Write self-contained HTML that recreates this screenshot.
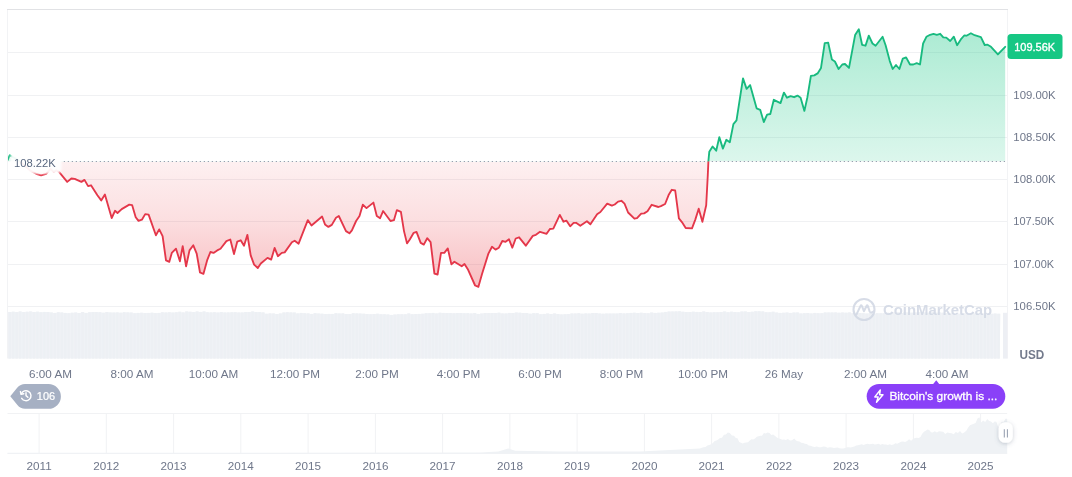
<!DOCTYPE html>
<html lang="en"><head><meta charset="utf-8"><title>Bitcoin price chart</title>
<style>html,body{margin:0;padding:0;background:#fff;}body{width:1072px;height:477px;overflow:hidden;position:relative;font-family:"Liberation Sans",sans-serif;}svg text{opacity:.999}</style></head>
<body>
<svg width="1072" height="477" viewBox="0 0 1072 477" style="display:block;position:absolute;left:0;top:0">
<defs>
<linearGradient id="gg" gradientUnits="userSpaceOnUse" x1="0" y1="28" x2="0" y2="161.5"><stop offset="0" stop-color="#16c784" stop-opacity="0.36"/><stop offset="1" stop-color="#16c784" stop-opacity="0.15"/></linearGradient>
<linearGradient id="rg" gradientUnits="userSpaceOnUse" x1="0" y1="161.5" x2="0" y2="288"><stop offset="0" stop-color="#ea3943" stop-opacity="0.075"/><stop offset="0.45" stop-color="#ea3943" stop-opacity="0.16"/><stop offset="1" stop-color="#ea3943" stop-opacity="0.33"/></linearGradient>
<clipPath id="up"><rect x="8" y="0" width="1000" height="161.5"/></clipPath>
<clipPath id="dn"><rect x="8" y="161.5" width="1000" height="200"/></clipPath>
<filter id="sh" x="-50%" y="-50%" width="200%" height="200%"><feDropShadow dx="0" dy="1" stdDeviation="2.2" flood-color="#58667e" flood-opacity="0.32"/></filter>
<filter id="bl" x="-10%" y="-20%" width="120%" height="140%"><feGaussianBlur stdDeviation="0.8"/></filter>
</defs>
<rect width="1072" height="477" fill="#fff"/>
<line x1="7.5" x2="1007.5" y1="52.5" y2="52.5" stroke="#f0f1f3" stroke-width="1"/>
<line x1="7.5" x2="1007.5" y1="95.5" y2="95.5" stroke="#f0f1f3" stroke-width="1"/>
<line x1="7.5" x2="1007.5" y1="137.5" y2="137.5" stroke="#f0f1f3" stroke-width="1"/>
<line x1="7.5" x2="1007.5" y1="179.5" y2="179.5" stroke="#f0f1f3" stroke-width="1"/>
<line x1="7.5" x2="1007.5" y1="221.5" y2="221.5" stroke="#f0f1f3" stroke-width="1"/>
<line x1="7.5" x2="1007.5" y1="264.5" y2="264.5" stroke="#f0f1f3" stroke-width="1"/>
<line x1="7.5" x2="1007.5" y1="306.5" y2="306.5" stroke="#f0f1f3" stroke-width="1"/>
<path d="M7.5,358.5 V9.5 M1007.5,9.5 V358.5" fill="none" stroke="#f2f3f5" stroke-width="1"/>
<line x1="7.0" x2="1008.0" y1="9.5" y2="9.5" stroke="#e1e2e5" stroke-width="1"/>
<g>
<path d="M8,358.6 L8.00,312.0 L11.47,312.0 L11.47,311.7 L14.94,311.7 L14.94,312.1 L18.41,312.1 L18.41,311.5 L21.88,311.5 L21.88,312.0 L25.35,312.0 L25.35,311.8 L28.82,311.8 L28.82,311.5 L32.29,311.5 L32.29,312.1 L35.76,312.1 L35.76,311.7 L39.23,311.7 L39.23,312.2 L42.70,312.2 L42.70,311.9 L46.17,311.9 L46.17,312.0 L49.64,312.0 L49.64,312.5 L53.11,312.5 L53.11,312.9 L56.58,312.9 L56.58,312.3 L60.05,312.3 L60.05,312.5 L63.52,312.5 L63.52,312.9 L66.99,312.9 L66.99,313.2 L70.46,313.2 L70.46,312.8 L73.93,312.8 L73.93,312.6 L77.40,312.6 L77.40,313.1 L80.87,313.1 L80.87,312.1 L84.34,312.1 L84.34,312.9 L87.81,312.9 L87.81,312.2 L91.28,312.2 L91.28,312.0 L94.75,312.0 L94.75,312.0 L98.22,312.0 L98.22,312.2 L101.69,312.2 L101.69,312.7 L105.16,312.7 L105.16,312.1 L108.63,312.1 L108.63,312.5 L112.10,312.5 L112.10,312.6 L115.57,312.6 L115.57,312.4 L119.04,312.4 L119.04,312.7 L122.51,312.7 L122.51,312.3 L125.98,312.3 L125.98,312.4 L129.45,312.4 L129.45,312.6 L132.92,312.6 L132.92,313.2 L136.39,313.2 L136.39,312.9 L139.86,312.9 L139.86,312.8 L143.33,312.8 L143.33,313.1 L146.80,313.1 L146.80,312.9 L150.27,312.9 L150.27,312.7 L153.74,312.7 L153.74,313.1 L157.21,313.1 L157.21,312.9 L160.68,312.9 L160.68,312.3 L164.15,312.3 L164.15,312.5 L167.62,312.5 L167.62,312.3 L171.09,312.3 L171.09,312.6 L174.56,312.6 L174.56,312.3 L178.03,312.3 L178.03,311.8 L181.50,311.8 L181.50,312.4 L184.97,312.4 L184.97,311.5 L188.44,311.5 L188.44,311.8 L191.91,311.8 L191.91,312.1 L195.38,312.1 L195.38,311.5 L198.85,311.5 L198.85,311.9 L202.32,311.9 L202.32,311.5 L205.79,311.5 L205.79,312.2 L209.26,312.2 L209.26,312.4 L212.73,312.4 L212.73,312.2 L216.20,312.2 L216.20,312.6 L219.67,312.6 L219.67,312.1 L223.14,312.1 L223.14,312.5 L226.61,312.5 L226.61,312.4 L230.08,312.4 L230.08,312.3 L233.55,312.3 L233.55,312.2 L237.02,312.2 L237.02,312.5 L240.49,312.5 L240.49,312.5 L243.96,312.5 L243.96,312.0 L247.43,312.0 L247.43,312.1 L250.90,312.1 L250.90,311.5 L254.37,311.5 L254.37,312.1 L257.84,312.1 L257.84,312.0 L261.31,312.0 L261.31,312.4 L264.78,312.4 L264.78,313.8 L268.25,313.8 L268.25,313.4 L271.72,313.4 L271.72,313.5 L275.19,313.5 L275.19,314.0 L278.66,314.0 L278.66,313.5 L282.13,313.5 L282.13,312.5 L285.60,312.5 L285.60,312.3 L289.07,312.3 L289.07,312.4 L292.54,312.4 L292.54,312.6 L296.01,312.6 L296.01,313.4 L299.48,313.4 L299.48,312.9 L302.95,312.9 L302.95,313.2 L306.42,313.2 L306.42,313.4 L309.89,313.4 L309.89,313.9 L313.36,313.9 L313.36,313.2 L316.83,313.2 L316.83,313.6 L320.30,313.6 L320.30,313.7 L323.77,313.7 L323.77,314.0 L327.24,314.0 L327.24,313.9 L330.71,313.9 L330.71,313.9 L334.18,313.9 L334.18,313.3 L337.65,313.3 L337.65,313.5 L341.12,313.5 L341.12,313.4 L344.59,313.4 L344.59,314.0 L348.06,314.0 L348.06,314.1 L351.53,314.1 L351.53,313.3 L355.00,313.3 L355.00,313.4 L358.47,313.4 L358.47,313.6 L361.94,313.6 L361.94,313.7 L365.41,313.7 L365.41,314.0 L368.88,314.0 L368.88,314.2 L372.35,314.2 L372.35,314.0 L375.82,314.0 L375.82,313.8 L379.29,313.8 L379.29,314.3 L382.76,314.3 L382.76,314.3 L386.23,314.3 L386.23,314.5 L389.70,314.5 L389.70,314.9 L393.17,314.9 L393.17,314.6 L396.64,314.6 L396.64,314.3 L400.11,314.3 L400.11,314.3 L403.58,314.3 L403.58,314.3 L407.05,314.3 L407.05,313.5 L410.52,313.5 L410.52,314.2 L413.99,314.2 L413.99,314.0 L417.46,314.0 L417.46,313.9 L420.93,313.9 L420.93,313.8 L424.40,313.8 L424.40,313.3 L427.87,313.3 L427.87,313.2 L431.34,313.2 L431.34,312.9 L434.81,312.9 L434.81,313.4 L438.28,313.4 L438.28,312.8 L441.75,312.8 L441.75,312.9 L445.22,312.9 L445.22,313.1 L448.69,313.1 L448.69,313.1 L452.16,313.1 L452.16,313.3 L455.63,313.3 L455.63,313.1 L459.10,313.1 L459.10,313.1 L462.57,313.1 L462.57,313.3 L466.04,313.3 L466.04,313.2 L469.51,313.2 L469.51,313.5 L472.98,313.5 L472.98,313.1 L476.45,313.1 L476.45,313.9 L479.92,313.9 L479.92,313.6 L483.39,313.6 L483.39,313.1 L486.86,313.1 L486.86,313.1 L490.33,313.1 L490.33,313.1 L493.80,313.1 L493.80,313.0 L497.27,313.0 L497.27,312.7 L500.74,312.7 L500.74,313.4 L504.21,313.4 L504.21,313.5 L507.68,313.5 L507.68,312.9 L511.15,312.9 L511.15,313.0 L514.62,313.0 L514.62,312.6 L518.09,312.6 L518.09,312.7 L521.56,312.7 L521.56,313.0 L525.03,313.0 L525.03,313.1 L528.50,313.1 L528.50,313.7 L531.97,313.7 L531.97,313.2 L535.44,313.2 L535.44,313.2 L538.91,313.2 L538.91,314.2 L542.38,314.2 L542.38,313.9 L545.85,313.9 L545.85,313.6 L549.32,313.6 L549.32,314.0 L552.79,314.0 L552.79,313.5 L556.26,313.5 L556.26,314.0 L559.73,314.0 L559.73,314.4 L563.20,314.4 L563.20,314.3 L566.67,314.3 L566.67,314.0 L570.14,314.0 L570.14,313.5 L573.61,313.5 L573.61,313.5 L577.08,313.5 L577.08,313.2 L580.55,313.2 L580.55,313.7 L584.02,313.7 L584.02,313.4 L587.49,313.4 L587.49,313.6 L590.96,313.6 L590.96,313.1 L594.43,313.1 L594.43,313.0 L597.90,313.0 L597.90,313.5 L601.37,313.5 L601.37,313.7 L604.84,313.7 L604.84,313.6 L608.31,313.6 L608.31,313.6 L611.78,313.6 L611.78,313.6 L615.25,313.6 L615.25,313.6 L618.72,313.6 L618.72,313.1 L622.19,313.1 L622.19,313.4 L625.66,313.4 L625.66,313.2 L629.13,313.2 L629.13,312.9 L632.60,312.9 L632.60,312.8 L636.07,312.8 L636.07,313.0 L639.54,313.0 L639.54,312.8 L643.01,312.8 L643.01,313.1 L646.48,313.1 L646.48,313.3 L649.95,313.3 L649.95,312.6 L653.42,312.6 L653.42,312.9 L656.89,312.9 L656.89,312.8 L660.36,312.8 L660.36,312.6 L663.83,312.6 L663.83,311.9 L667.30,311.9 L667.30,311.6 L670.77,311.6 L670.77,311.5 L674.24,311.5 L674.24,311.4 L677.71,311.4 L677.71,311.3 L681.18,311.3 L681.18,311.8 L684.65,311.8 L684.65,312.0 L688.12,312.0 L688.12,312.0 L691.59,312.0 L691.59,311.7 L695.06,311.7 L695.06,311.9 L698.53,311.9 L698.53,312.1 L702.00,312.1 L702.00,311.5 L705.47,311.5 L705.47,312.1 L708.94,312.1 L708.94,312.4 L712.41,312.4 L712.41,312.3 L715.88,312.3 L715.88,312.3 L719.35,312.3 L719.35,312.0 L722.82,312.0 L722.82,311.6 L726.29,311.6 L726.29,312.2 L729.76,312.2 L729.76,311.7 L733.23,311.7 L733.23,312.1 L736.70,312.1 L736.70,312.2 L740.17,312.2 L740.17,311.6 L743.64,311.6 L743.64,311.5 L747.11,311.5 L747.11,312.1 L750.58,312.1 L750.58,311.8 L754.05,311.8 L754.05,311.3 L757.52,311.3 L757.52,311.3 L760.99,311.3 L760.99,311.4 L764.46,311.4 L764.46,312.3 L767.93,312.3 L767.93,312.3 L771.40,312.3 L771.40,311.8 L774.87,311.8 L774.87,312.6 L778.34,312.6 L778.34,312.9 L781.81,312.9 L781.81,312.8 L785.28,312.8 L785.28,312.6 L788.75,312.6 L788.75,312.9 L792.22,312.9 L792.22,312.6 L795.69,312.6 L795.69,312.5 L799.16,312.5 L799.16,313.5 L802.63,313.5 L802.63,313.2 L806.10,313.2 L806.10,313.1 L809.57,313.1 L809.57,313.5 L813.04,313.5 L813.04,312.9 L816.51,312.9 L816.51,313.3 L819.98,313.3 L819.98,313.2 L823.45,313.2 L823.45,312.5 L826.92,312.5 L826.92,312.5 L830.39,312.5 L830.39,312.5 L833.86,312.5 L833.86,312.4 L837.33,312.4 L837.33,312.8 L840.80,312.8 L840.80,312.5 L844.27,312.5 L844.27,312.7 L847.74,312.7 L847.74,312.4 L851.21,312.4 L851.21,313.3 L854.68,313.3 L854.68,312.8 L858.15,312.8 L858.15,313.0 L861.62,313.0 L861.62,313.2 L865.09,313.2 L865.09,313.6 L868.56,313.6 L868.56,313.1 L872.03,313.1 L872.03,313.7 L875.50,313.7 L875.50,313.3 L878.97,313.3 L878.97,313.3 L882.44,313.3 L882.44,313.2 L885.91,313.2 L885.91,312.7 L889.38,312.7 L889.38,313.0 L892.85,313.0 L892.85,312.6 L896.32,312.6 L896.32,312.4 L899.79,312.4 L899.79,313.0 L903.26,313.0 L903.26,312.3 L906.73,312.3 L906.73,312.5 L910.20,312.5 L910.20,312.7 L913.67,312.7 L913.67,312.5 L917.14,312.5 L917.14,312.2 L920.61,312.2 L920.61,312.4 L924.08,312.4 L924.08,312.5 L927.55,312.5 L927.55,312.8 L931.02,312.8 L931.02,312.2 L934.49,312.2 L934.49,312.7 L937.96,312.7 L937.96,312.5 L941.43,312.5 L941.43,312.7 L944.90,312.7 L944.90,313.3 L948.37,313.3 L948.37,313.1 L951.84,313.1 L951.84,313.3 L955.31,313.3 L955.31,313.6 L958.78,313.6 L958.78,313.8 L962.25,313.8 L962.25,313.4 L965.72,313.4 L965.72,313.6 L969.19,313.6 L969.19,313.5 L972.66,313.5 L972.66,313.5 L976.13,313.5 L976.13,313.6 L979.60,313.6 L979.60,313.4 L983.07,313.4 L983.07,313.4 L986.54,313.4 L986.54,313.3 L990.01,313.3 L990.01,313.8 L993.48,313.8 L993.48,313.6 L996.95,313.6 L996.95,313.8 L1000.42,313.8 L999.6,358.6 Z" fill="#f0f2f6"/>
<rect x="8.50" y="312.0" width="2.4" height="46.6" fill="#edf0f4"/>
<rect x="11.97" y="311.7" width="2.4" height="46.9" fill="#edf0f4"/>
<rect x="15.44" y="312.1" width="2.4" height="46.5" fill="#edf0f4"/>
<rect x="18.91" y="311.5" width="2.4" height="47.1" fill="#edf0f4"/>
<rect x="22.38" y="312.0" width="2.4" height="46.6" fill="#edf0f4"/>
<rect x="25.85" y="311.8" width="2.4" height="46.8" fill="#edf0f4"/>
<rect x="29.32" y="311.5" width="2.4" height="47.1" fill="#edf0f4"/>
<rect x="32.79" y="312.1" width="2.4" height="46.5" fill="#edf0f4"/>
<rect x="36.26" y="311.7" width="2.4" height="46.9" fill="#edf0f4"/>
<rect x="39.73" y="312.2" width="2.4" height="46.4" fill="#edf0f4"/>
<rect x="43.20" y="311.9" width="2.4" height="46.7" fill="#edf0f4"/>
<rect x="46.67" y="312.0" width="2.4" height="46.6" fill="#edf0f4"/>
<rect x="50.14" y="312.5" width="2.4" height="46.1" fill="#edf0f4"/>
<rect x="53.61" y="312.9" width="2.4" height="45.7" fill="#edf0f4"/>
<rect x="57.08" y="312.3" width="2.4" height="46.3" fill="#edf0f4"/>
<rect x="60.55" y="312.5" width="2.4" height="46.1" fill="#edf0f4"/>
<rect x="64.02" y="312.9" width="2.4" height="45.7" fill="#edf0f4"/>
<rect x="67.49" y="313.2" width="2.4" height="45.4" fill="#edf0f4"/>
<rect x="70.96" y="312.8" width="2.4" height="45.8" fill="#edf0f4"/>
<rect x="74.43" y="312.6" width="2.4" height="46.0" fill="#edf0f4"/>
<rect x="77.90" y="313.1" width="2.4" height="45.5" fill="#edf0f4"/>
<rect x="81.37" y="312.1" width="2.4" height="46.5" fill="#edf0f4"/>
<rect x="84.84" y="312.9" width="2.4" height="45.7" fill="#edf0f4"/>
<rect x="88.31" y="312.2" width="2.4" height="46.4" fill="#edf0f4"/>
<rect x="91.78" y="312.0" width="2.4" height="46.6" fill="#edf0f4"/>
<rect x="95.25" y="312.0" width="2.4" height="46.6" fill="#edf0f4"/>
<rect x="98.72" y="312.2" width="2.4" height="46.4" fill="#edf0f4"/>
<rect x="102.19" y="312.7" width="2.4" height="45.9" fill="#edf0f4"/>
<rect x="105.66" y="312.1" width="2.4" height="46.5" fill="#edf0f4"/>
<rect x="109.13" y="312.5" width="2.4" height="46.1" fill="#edf0f4"/>
<rect x="112.60" y="312.6" width="2.4" height="46.0" fill="#edf0f4"/>
<rect x="116.07" y="312.4" width="2.4" height="46.2" fill="#edf0f4"/>
<rect x="119.54" y="312.7" width="2.4" height="45.9" fill="#edf0f4"/>
<rect x="123.01" y="312.3" width="2.4" height="46.3" fill="#edf0f4"/>
<rect x="126.48" y="312.4" width="2.4" height="46.2" fill="#edf0f4"/>
<rect x="129.95" y="312.6" width="2.4" height="46.0" fill="#edf0f4"/>
<rect x="133.42" y="313.2" width="2.4" height="45.4" fill="#edf0f4"/>
<rect x="136.89" y="312.9" width="2.4" height="45.7" fill="#edf0f4"/>
<rect x="140.36" y="312.8" width="2.4" height="45.8" fill="#edf0f4"/>
<rect x="143.83" y="313.1" width="2.4" height="45.5" fill="#edf0f4"/>
<rect x="147.30" y="312.9" width="2.4" height="45.7" fill="#edf0f4"/>
<rect x="150.77" y="312.7" width="2.4" height="45.9" fill="#edf0f4"/>
<rect x="154.24" y="313.1" width="2.4" height="45.5" fill="#edf0f4"/>
<rect x="157.71" y="312.9" width="2.4" height="45.7" fill="#edf0f4"/>
<rect x="161.18" y="312.3" width="2.4" height="46.3" fill="#edf0f4"/>
<rect x="164.65" y="312.5" width="2.4" height="46.1" fill="#edf0f4"/>
<rect x="168.12" y="312.3" width="2.4" height="46.3" fill="#edf0f4"/>
<rect x="171.59" y="312.6" width="2.4" height="46.0" fill="#edf0f4"/>
<rect x="175.06" y="312.3" width="2.4" height="46.3" fill="#edf0f4"/>
<rect x="178.53" y="311.8" width="2.4" height="46.8" fill="#edf0f4"/>
<rect x="182.00" y="312.4" width="2.4" height="46.2" fill="#edf0f4"/>
<rect x="185.47" y="311.5" width="2.4" height="47.1" fill="#edf0f4"/>
<rect x="188.94" y="311.8" width="2.4" height="46.8" fill="#edf0f4"/>
<rect x="192.41" y="312.1" width="2.4" height="46.5" fill="#edf0f4"/>
<rect x="195.88" y="311.5" width="2.4" height="47.1" fill="#edf0f4"/>
<rect x="199.35" y="311.9" width="2.4" height="46.7" fill="#edf0f4"/>
<rect x="202.82" y="311.5" width="2.4" height="47.1" fill="#edf0f4"/>
<rect x="206.29" y="312.2" width="2.4" height="46.4" fill="#edf0f4"/>
<rect x="209.76" y="312.4" width="2.4" height="46.2" fill="#edf0f4"/>
<rect x="213.23" y="312.2" width="2.4" height="46.4" fill="#edf0f4"/>
<rect x="216.70" y="312.6" width="2.4" height="46.0" fill="#edf0f4"/>
<rect x="220.17" y="312.1" width="2.4" height="46.5" fill="#edf0f4"/>
<rect x="223.64" y="312.5" width="2.4" height="46.1" fill="#edf0f4"/>
<rect x="227.11" y="312.4" width="2.4" height="46.2" fill="#edf0f4"/>
<rect x="230.58" y="312.3" width="2.4" height="46.3" fill="#edf0f4"/>
<rect x="234.05" y="312.2" width="2.4" height="46.4" fill="#edf0f4"/>
<rect x="237.52" y="312.5" width="2.4" height="46.1" fill="#edf0f4"/>
<rect x="240.99" y="312.5" width="2.4" height="46.1" fill="#edf0f4"/>
<rect x="244.46" y="312.0" width="2.4" height="46.6" fill="#edf0f4"/>
<rect x="247.93" y="312.1" width="2.4" height="46.5" fill="#edf0f4"/>
<rect x="251.40" y="311.5" width="2.4" height="47.1" fill="#edf0f4"/>
<rect x="254.87" y="312.1" width="2.4" height="46.5" fill="#edf0f4"/>
<rect x="258.34" y="312.0" width="2.4" height="46.6" fill="#edf0f4"/>
<rect x="261.81" y="312.4" width="2.4" height="46.2" fill="#edf0f4"/>
<rect x="265.28" y="313.8" width="2.4" height="44.8" fill="#edf0f4"/>
<rect x="268.75" y="313.4" width="2.4" height="45.2" fill="#edf0f4"/>
<rect x="272.22" y="313.5" width="2.4" height="45.1" fill="#edf0f4"/>
<rect x="275.69" y="314.0" width="2.4" height="44.6" fill="#edf0f4"/>
<rect x="279.16" y="313.5" width="2.4" height="45.1" fill="#edf0f4"/>
<rect x="282.63" y="312.5" width="2.4" height="46.1" fill="#edf0f4"/>
<rect x="286.10" y="312.3" width="2.4" height="46.3" fill="#edf0f4"/>
<rect x="289.57" y="312.4" width="2.4" height="46.2" fill="#edf0f4"/>
<rect x="293.04" y="312.6" width="2.4" height="46.0" fill="#edf0f4"/>
<rect x="296.51" y="313.4" width="2.4" height="45.2" fill="#edf0f4"/>
<rect x="299.98" y="312.9" width="2.4" height="45.7" fill="#edf0f4"/>
<rect x="303.45" y="313.2" width="2.4" height="45.4" fill="#edf0f4"/>
<rect x="306.92" y="313.4" width="2.4" height="45.2" fill="#edf0f4"/>
<rect x="310.39" y="313.9" width="2.4" height="44.7" fill="#edf0f4"/>
<rect x="313.86" y="313.2" width="2.4" height="45.4" fill="#edf0f4"/>
<rect x="317.33" y="313.6" width="2.4" height="45.0" fill="#edf0f4"/>
<rect x="320.80" y="313.7" width="2.4" height="44.9" fill="#edf0f4"/>
<rect x="324.27" y="314.0" width="2.4" height="44.6" fill="#edf0f4"/>
<rect x="327.74" y="313.9" width="2.4" height="44.7" fill="#edf0f4"/>
<rect x="331.21" y="313.9" width="2.4" height="44.7" fill="#edf0f4"/>
<rect x="334.68" y="313.3" width="2.4" height="45.3" fill="#edf0f4"/>
<rect x="338.15" y="313.5" width="2.4" height="45.1" fill="#edf0f4"/>
<rect x="341.62" y="313.4" width="2.4" height="45.2" fill="#edf0f4"/>
<rect x="345.09" y="314.0" width="2.4" height="44.6" fill="#edf0f4"/>
<rect x="348.56" y="314.1" width="2.4" height="44.5" fill="#edf0f4"/>
<rect x="352.03" y="313.3" width="2.4" height="45.3" fill="#edf0f4"/>
<rect x="355.50" y="313.4" width="2.4" height="45.2" fill="#edf0f4"/>
<rect x="358.97" y="313.6" width="2.4" height="45.0" fill="#edf0f4"/>
<rect x="362.44" y="313.7" width="2.4" height="44.9" fill="#edf0f4"/>
<rect x="365.91" y="314.0" width="2.4" height="44.6" fill="#edf0f4"/>
<rect x="369.38" y="314.2" width="2.4" height="44.4" fill="#edf0f4"/>
<rect x="372.85" y="314.0" width="2.4" height="44.6" fill="#edf0f4"/>
<rect x="376.32" y="313.8" width="2.4" height="44.8" fill="#edf0f4"/>
<rect x="379.79" y="314.3" width="2.4" height="44.3" fill="#edf0f4"/>
<rect x="383.26" y="314.3" width="2.4" height="44.3" fill="#edf0f4"/>
<rect x="386.73" y="314.5" width="2.4" height="44.1" fill="#edf0f4"/>
<rect x="390.20" y="314.9" width="2.4" height="43.7" fill="#edf0f4"/>
<rect x="393.67" y="314.6" width="2.4" height="44.0" fill="#edf0f4"/>
<rect x="397.14" y="314.3" width="2.4" height="44.3" fill="#edf0f4"/>
<rect x="400.61" y="314.3" width="2.4" height="44.3" fill="#edf0f4"/>
<rect x="404.08" y="314.3" width="2.4" height="44.3" fill="#edf0f4"/>
<rect x="407.55" y="313.5" width="2.4" height="45.1" fill="#edf0f4"/>
<rect x="411.02" y="314.2" width="2.4" height="44.4" fill="#edf0f4"/>
<rect x="414.49" y="314.0" width="2.4" height="44.6" fill="#edf0f4"/>
<rect x="417.96" y="313.9" width="2.4" height="44.7" fill="#edf0f4"/>
<rect x="421.43" y="313.8" width="2.4" height="44.8" fill="#edf0f4"/>
<rect x="424.90" y="313.3" width="2.4" height="45.3" fill="#edf0f4"/>
<rect x="428.37" y="313.2" width="2.4" height="45.4" fill="#edf0f4"/>
<rect x="431.84" y="312.9" width="2.4" height="45.7" fill="#edf0f4"/>
<rect x="435.31" y="313.4" width="2.4" height="45.2" fill="#edf0f4"/>
<rect x="438.78" y="312.8" width="2.4" height="45.8" fill="#edf0f4"/>
<rect x="442.25" y="312.9" width="2.4" height="45.7" fill="#edf0f4"/>
<rect x="445.72" y="313.1" width="2.4" height="45.5" fill="#edf0f4"/>
<rect x="449.19" y="313.1" width="2.4" height="45.5" fill="#edf0f4"/>
<rect x="452.66" y="313.3" width="2.4" height="45.3" fill="#edf0f4"/>
<rect x="456.13" y="313.1" width="2.4" height="45.5" fill="#edf0f4"/>
<rect x="459.60" y="313.1" width="2.4" height="45.5" fill="#edf0f4"/>
<rect x="463.07" y="313.3" width="2.4" height="45.3" fill="#edf0f4"/>
<rect x="466.54" y="313.2" width="2.4" height="45.4" fill="#edf0f4"/>
<rect x="470.01" y="313.5" width="2.4" height="45.1" fill="#edf0f4"/>
<rect x="473.48" y="313.1" width="2.4" height="45.5" fill="#edf0f4"/>
<rect x="476.95" y="313.9" width="2.4" height="44.7" fill="#edf0f4"/>
<rect x="480.42" y="313.6" width="2.4" height="45.0" fill="#edf0f4"/>
<rect x="483.89" y="313.1" width="2.4" height="45.5" fill="#edf0f4"/>
<rect x="487.36" y="313.1" width="2.4" height="45.5" fill="#edf0f4"/>
<rect x="490.83" y="313.1" width="2.4" height="45.5" fill="#edf0f4"/>
<rect x="494.30" y="313.0" width="2.4" height="45.6" fill="#edf0f4"/>
<rect x="497.77" y="312.7" width="2.4" height="45.9" fill="#edf0f4"/>
<rect x="501.24" y="313.4" width="2.4" height="45.2" fill="#edf0f4"/>
<rect x="504.71" y="313.5" width="2.4" height="45.1" fill="#edf0f4"/>
<rect x="508.18" y="312.9" width="2.4" height="45.7" fill="#edf0f4"/>
<rect x="511.65" y="313.0" width="2.4" height="45.6" fill="#edf0f4"/>
<rect x="515.12" y="312.6" width="2.4" height="46.0" fill="#edf0f4"/>
<rect x="518.59" y="312.7" width="2.4" height="45.9" fill="#edf0f4"/>
<rect x="522.06" y="313.0" width="2.4" height="45.6" fill="#edf0f4"/>
<rect x="525.53" y="313.1" width="2.4" height="45.5" fill="#edf0f4"/>
<rect x="529.00" y="313.7" width="2.4" height="44.9" fill="#edf0f4"/>
<rect x="532.47" y="313.2" width="2.4" height="45.4" fill="#edf0f4"/>
<rect x="535.94" y="313.2" width="2.4" height="45.4" fill="#edf0f4"/>
<rect x="539.41" y="314.2" width="2.4" height="44.4" fill="#edf0f4"/>
<rect x="542.88" y="313.9" width="2.4" height="44.7" fill="#edf0f4"/>
<rect x="546.35" y="313.6" width="2.4" height="45.0" fill="#edf0f4"/>
<rect x="549.82" y="314.0" width="2.4" height="44.6" fill="#edf0f4"/>
<rect x="553.29" y="313.5" width="2.4" height="45.1" fill="#edf0f4"/>
<rect x="556.76" y="314.0" width="2.4" height="44.6" fill="#edf0f4"/>
<rect x="560.23" y="314.4" width="2.4" height="44.2" fill="#edf0f4"/>
<rect x="563.70" y="314.3" width="2.4" height="44.3" fill="#edf0f4"/>
<rect x="567.17" y="314.0" width="2.4" height="44.6" fill="#edf0f4"/>
<rect x="570.64" y="313.5" width="2.4" height="45.1" fill="#edf0f4"/>
<rect x="574.11" y="313.5" width="2.4" height="45.1" fill="#edf0f4"/>
<rect x="577.58" y="313.2" width="2.4" height="45.4" fill="#edf0f4"/>
<rect x="581.05" y="313.7" width="2.4" height="44.9" fill="#edf0f4"/>
<rect x="584.52" y="313.4" width="2.4" height="45.2" fill="#edf0f4"/>
<rect x="587.99" y="313.6" width="2.4" height="45.0" fill="#edf0f4"/>
<rect x="591.46" y="313.1" width="2.4" height="45.5" fill="#edf0f4"/>
<rect x="594.93" y="313.0" width="2.4" height="45.6" fill="#edf0f4"/>
<rect x="598.40" y="313.5" width="2.4" height="45.1" fill="#edf0f4"/>
<rect x="601.87" y="313.7" width="2.4" height="44.9" fill="#edf0f4"/>
<rect x="605.34" y="313.6" width="2.4" height="45.0" fill="#edf0f4"/>
<rect x="608.81" y="313.6" width="2.4" height="45.0" fill="#edf0f4"/>
<rect x="612.28" y="313.6" width="2.4" height="45.0" fill="#edf0f4"/>
<rect x="615.75" y="313.6" width="2.4" height="45.0" fill="#edf0f4"/>
<rect x="619.22" y="313.1" width="2.4" height="45.5" fill="#edf0f4"/>
<rect x="622.69" y="313.4" width="2.4" height="45.2" fill="#edf0f4"/>
<rect x="626.16" y="313.2" width="2.4" height="45.4" fill="#edf0f4"/>
<rect x="629.63" y="312.9" width="2.4" height="45.7" fill="#edf0f4"/>
<rect x="633.10" y="312.8" width="2.4" height="45.8" fill="#edf0f4"/>
<rect x="636.57" y="313.0" width="2.4" height="45.6" fill="#edf0f4"/>
<rect x="640.04" y="312.8" width="2.4" height="45.8" fill="#edf0f4"/>
<rect x="643.51" y="313.1" width="2.4" height="45.5" fill="#edf0f4"/>
<rect x="646.98" y="313.3" width="2.4" height="45.3" fill="#edf0f4"/>
<rect x="650.45" y="312.6" width="2.4" height="46.0" fill="#edf0f4"/>
<rect x="653.92" y="312.9" width="2.4" height="45.7" fill="#edf0f4"/>
<rect x="657.39" y="312.8" width="2.4" height="45.8" fill="#edf0f4"/>
<rect x="660.86" y="312.6" width="2.4" height="46.0" fill="#edf0f4"/>
<rect x="664.33" y="311.9" width="2.4" height="46.7" fill="#edf0f4"/>
<rect x="667.80" y="311.6" width="2.4" height="47.0" fill="#edf0f4"/>
<rect x="671.27" y="311.5" width="2.4" height="47.1" fill="#edf0f4"/>
<rect x="674.74" y="311.4" width="2.4" height="47.2" fill="#edf0f4"/>
<rect x="678.21" y="311.3" width="2.4" height="47.3" fill="#edf0f4"/>
<rect x="681.68" y="311.8" width="2.4" height="46.8" fill="#edf0f4"/>
<rect x="685.15" y="312.0" width="2.4" height="46.6" fill="#edf0f4"/>
<rect x="688.62" y="312.0" width="2.4" height="46.6" fill="#edf0f4"/>
<rect x="692.09" y="311.7" width="2.4" height="46.9" fill="#edf0f4"/>
<rect x="695.56" y="311.9" width="2.4" height="46.7" fill="#edf0f4"/>
<rect x="699.03" y="312.1" width="2.4" height="46.5" fill="#edf0f4"/>
<rect x="702.50" y="311.5" width="2.4" height="47.1" fill="#edf0f4"/>
<rect x="705.97" y="312.1" width="2.4" height="46.5" fill="#edf0f4"/>
<rect x="709.44" y="312.4" width="2.4" height="46.2" fill="#edf0f4"/>
<rect x="712.91" y="312.3" width="2.4" height="46.3" fill="#edf0f4"/>
<rect x="716.38" y="312.3" width="2.4" height="46.3" fill="#edf0f4"/>
<rect x="719.85" y="312.0" width="2.4" height="46.6" fill="#edf0f4"/>
<rect x="723.32" y="311.6" width="2.4" height="47.0" fill="#edf0f4"/>
<rect x="726.79" y="312.2" width="2.4" height="46.4" fill="#edf0f4"/>
<rect x="730.26" y="311.7" width="2.4" height="46.9" fill="#edf0f4"/>
<rect x="733.73" y="312.1" width="2.4" height="46.5" fill="#edf0f4"/>
<rect x="737.20" y="312.2" width="2.4" height="46.4" fill="#edf0f4"/>
<rect x="740.67" y="311.6" width="2.4" height="47.0" fill="#edf0f4"/>
<rect x="744.14" y="311.5" width="2.4" height="47.1" fill="#edf0f4"/>
<rect x="747.61" y="312.1" width="2.4" height="46.5" fill="#edf0f4"/>
<rect x="751.08" y="311.8" width="2.4" height="46.8" fill="#edf0f4"/>
<rect x="754.55" y="311.3" width="2.4" height="47.3" fill="#edf0f4"/>
<rect x="758.02" y="311.3" width="2.4" height="47.3" fill="#edf0f4"/>
<rect x="761.49" y="311.4" width="2.4" height="47.2" fill="#edf0f4"/>
<rect x="764.96" y="312.3" width="2.4" height="46.3" fill="#edf0f4"/>
<rect x="768.43" y="312.3" width="2.4" height="46.3" fill="#edf0f4"/>
<rect x="771.90" y="311.8" width="2.4" height="46.8" fill="#edf0f4"/>
<rect x="775.37" y="312.6" width="2.4" height="46.0" fill="#edf0f4"/>
<rect x="778.84" y="312.9" width="2.4" height="45.7" fill="#edf0f4"/>
<rect x="782.31" y="312.8" width="2.4" height="45.8" fill="#edf0f4"/>
<rect x="785.78" y="312.6" width="2.4" height="46.0" fill="#edf0f4"/>
<rect x="789.25" y="312.9" width="2.4" height="45.7" fill="#edf0f4"/>
<rect x="792.72" y="312.6" width="2.4" height="46.0" fill="#edf0f4"/>
<rect x="796.19" y="312.5" width="2.4" height="46.1" fill="#edf0f4"/>
<rect x="799.66" y="313.5" width="2.4" height="45.1" fill="#edf0f4"/>
<rect x="803.13" y="313.2" width="2.4" height="45.4" fill="#edf0f4"/>
<rect x="806.60" y="313.1" width="2.4" height="45.5" fill="#edf0f4"/>
<rect x="810.07" y="313.5" width="2.4" height="45.1" fill="#edf0f4"/>
<rect x="813.54" y="312.9" width="2.4" height="45.7" fill="#edf0f4"/>
<rect x="817.01" y="313.3" width="2.4" height="45.3" fill="#edf0f4"/>
<rect x="820.48" y="313.2" width="2.4" height="45.4" fill="#edf0f4"/>
<rect x="823.95" y="312.5" width="2.4" height="46.1" fill="#edf0f4"/>
<rect x="827.42" y="312.5" width="2.4" height="46.1" fill="#edf0f4"/>
<rect x="830.89" y="312.5" width="2.4" height="46.1" fill="#edf0f4"/>
<rect x="834.36" y="312.4" width="2.4" height="46.2" fill="#edf0f4"/>
<rect x="837.83" y="312.8" width="2.4" height="45.8" fill="#edf0f4"/>
<rect x="841.30" y="312.5" width="2.4" height="46.1" fill="#edf0f4"/>
<rect x="844.77" y="312.7" width="2.4" height="45.9" fill="#edf0f4"/>
<rect x="848.24" y="312.4" width="2.4" height="46.2" fill="#edf0f4"/>
<rect x="851.71" y="313.3" width="2.4" height="45.3" fill="#edf0f4"/>
<rect x="855.18" y="312.8" width="2.4" height="45.8" fill="#edf0f4"/>
<rect x="858.65" y="313.0" width="2.4" height="45.6" fill="#edf0f4"/>
<rect x="862.12" y="313.2" width="2.4" height="45.4" fill="#edf0f4"/>
<rect x="865.59" y="313.6" width="2.4" height="45.0" fill="#edf0f4"/>
<rect x="869.06" y="313.1" width="2.4" height="45.5" fill="#edf0f4"/>
<rect x="872.53" y="313.7" width="2.4" height="44.9" fill="#edf0f4"/>
<rect x="876.00" y="313.3" width="2.4" height="45.3" fill="#edf0f4"/>
<rect x="879.47" y="313.3" width="2.4" height="45.3" fill="#edf0f4"/>
<rect x="882.94" y="313.2" width="2.4" height="45.4" fill="#edf0f4"/>
<rect x="886.41" y="312.7" width="2.4" height="45.9" fill="#edf0f4"/>
<rect x="889.88" y="313.0" width="2.4" height="45.6" fill="#edf0f4"/>
<rect x="893.35" y="312.6" width="2.4" height="46.0" fill="#edf0f4"/>
<rect x="896.82" y="312.4" width="2.4" height="46.2" fill="#edf0f4"/>
<rect x="900.29" y="313.0" width="2.4" height="45.6" fill="#edf0f4"/>
<rect x="903.76" y="312.3" width="2.4" height="46.3" fill="#edf0f4"/>
<rect x="907.23" y="312.5" width="2.4" height="46.1" fill="#edf0f4"/>
<rect x="910.70" y="312.7" width="2.4" height="45.9" fill="#edf0f4"/>
<rect x="914.17" y="312.5" width="2.4" height="46.1" fill="#edf0f4"/>
<rect x="917.64" y="312.2" width="2.4" height="46.4" fill="#edf0f4"/>
<rect x="921.11" y="312.4" width="2.4" height="46.2" fill="#edf0f4"/>
<rect x="924.58" y="312.5" width="2.4" height="46.1" fill="#edf0f4"/>
<rect x="928.05" y="312.8" width="2.4" height="45.8" fill="#edf0f4"/>
<rect x="931.52" y="312.2" width="2.4" height="46.4" fill="#edf0f4"/>
<rect x="934.99" y="312.7" width="2.4" height="45.9" fill="#edf0f4"/>
<rect x="938.46" y="312.5" width="2.4" height="46.1" fill="#edf0f4"/>
<rect x="941.93" y="312.7" width="2.4" height="45.9" fill="#edf0f4"/>
<rect x="945.40" y="313.3" width="2.4" height="45.3" fill="#edf0f4"/>
<rect x="948.87" y="313.1" width="2.4" height="45.5" fill="#edf0f4"/>
<rect x="952.34" y="313.3" width="2.4" height="45.3" fill="#edf0f4"/>
<rect x="955.81" y="313.6" width="2.4" height="45.0" fill="#edf0f4"/>
<rect x="959.28" y="313.8" width="2.4" height="44.8" fill="#edf0f4"/>
<rect x="962.75" y="313.4" width="2.4" height="45.2" fill="#edf0f4"/>
<rect x="966.22" y="313.6" width="2.4" height="45.0" fill="#edf0f4"/>
<rect x="969.69" y="313.5" width="2.4" height="45.1" fill="#edf0f4"/>
<rect x="973.16" y="313.5" width="2.4" height="45.1" fill="#edf0f4"/>
<rect x="976.63" y="313.6" width="2.4" height="45.0" fill="#edf0f4"/>
<rect x="980.10" y="313.4" width="2.4" height="45.2" fill="#edf0f4"/>
<rect x="983.57" y="313.4" width="2.4" height="45.2" fill="#edf0f4"/>
<rect x="987.04" y="313.3" width="2.4" height="45.3" fill="#edf0f4"/>
<rect x="990.51" y="313.8" width="2.4" height="44.8" fill="#edf0f4"/>
<rect x="993.98" y="313.6" width="2.4" height="45.0" fill="#edf0f4"/>
<rect x="997.45" y="313.8" width="2.4" height="44.8" fill="#edf0f4"/>
<rect x="1003.0" y="312.8" width="4.3" height="45.8" fill="#edeff4"/>
</g>
<g opacity="0.9"><circle cx="864.0" cy="309.5" r="10.5" fill="none" stroke="#d3d9e5" stroke-width="2.1"/>
<path d="M856.4,314.6 L860.4,306.2 Q861.3,304.4 862.1,306.3 L863.9,311.2 L866.4,306.2 Q867.3,304.4 868.0,306.4 L869.6,311.4 Q870.6,313.8 873.8,311.4" fill="none" stroke="#d3d9e5" stroke-width="2.0" stroke-linecap="round" stroke-linejoin="round"/>
<text x="883" y="315.2" font-family="'Liberation Sans',sans-serif" font-weight="700" font-size="15.2" fill="#d3d9e5" textLength="109.2" lengthAdjust="spacingAndGlyphs">CoinMarketCap</text></g>
<path d="M7.6,160.2 L9.8,155.2 L11.5,156.2 L16.0,158.8 L20.0,161.5 L25.0,166.0 L30.0,170.4 L36.1,173.8 L41.1,175.3 L46.2,173.8 L50.4,168.9 L53.7,171.9 L56.3,170.2 L58.8,171.7 L67.2,181.9 L71.4,178.5 L74.7,178.9 L81.4,181.9 L84.5,179.9 L88.1,186.1 L91.0,185.3 L97.4,195.3 L101.2,200.4 L104.9,194.5 L111.7,218.0 L115.0,210.8 L117.5,213.0 L121.7,209.1 L129.3,204.6 L132.1,205.1 L135.7,217.2 L138.5,220.9 L141.9,219.7 L145.2,214.1 L148.6,214.6 L155.9,235.3 L159.2,229.4 L162.6,236.1 L166.0,260.4 L169.3,261.8 L171.8,252.9 L176.0,248.7 L179.9,261.3 L182.7,246.2 L186.1,266.3 L189.5,250.4 L193.3,245.3 L196.7,253.7 L200.0,272.5 L203.4,273.9 L207.1,260.4 L210.4,252.0 L213.5,252.9 L217.2,250.4 L220.5,248.7 L226.4,241.1 L230.3,239.5 L234.0,254.1 L237.3,241.6 L240.7,240.3 L244.0,245.7 L247.4,234.9 L250.7,255.4 L254.1,264.6 L257.8,268.0 L260.8,263.5 L267.5,257.9 L271.2,259.6 L274.6,247.9 L277.9,256.2 L281.8,252.9 L284.7,252.4 L291.9,242.3 L294.7,240.8 L298.6,243.7 L307.8,220.1 L311.5,225.5 L322.1,216.5 L325.0,224.4 L328.4,226.9 L331.8,224.9 L336.0,217.7 L338.8,216.0 L346.0,231.1 L349.4,233.3 L351.9,230.3 L356.1,221.0 L359.5,216.0 L362.8,204.7 L366.5,208.1 L373.4,202.6 L376.8,216.0 L380.1,218.2 L383.1,211.0 L390.5,221.0 L393.9,220.2 L396.9,210.1 L400.9,211.8 L404.0,231.1 L407.0,243.4 L409.8,239.5 L413.7,232.8 L416.5,231.9 L420.7,242.9 L423.8,244.6 L427.2,238.2 L430.6,242.1 L434.4,273.6 L437.6,274.5 L441.0,252.8 L444.3,252.8 L447.8,248.4 L451.4,264.4 L454.4,261.7 L461.7,266.3 L464.5,264.1 L467.8,269.2 L475.1,285.5 L478.4,286.8 L482.1,273.7 L488.4,253.6 L492.0,246.8 L495.5,249.6 L498.9,247.7 L502.3,241.0 L505.6,241.8 L509.0,239.3 L512.3,247.7 L515.7,238.5 L519.1,237.3 L525.8,245.7 L532.8,235.9 L535.9,234.8 L540.0,231.8 L546.6,233.8 L549.9,229.0 L553.3,228.6 L559.8,214.9 L563.5,221.7 L566.5,220.7 L570.2,226.3 L573.6,222.9 L576.1,222.8 L580.3,225.7 L586.9,221.2 L590.4,224.3 L597.1,214.2 L600.4,212.0 L607.2,203.6 L611.9,205.6 L614.7,204.5 L618.1,201.6 L621.4,200.8 L624.5,203.6 L628.1,212.5 L634.4,218.7 L637.0,218.2 L641.2,213.7 L644.1,213.4 L647.5,211.2 L651.7,204.8 L658.4,207.0 L660.9,206.1 L665.1,204.0 L668.9,194.4 L671.8,189.8 L675.2,190.5 L678.9,218.4 L681.9,222.1 L685.7,228.0 L692.0,228.3 L695.3,219.6 L698.7,208.7 L702.4,221.8 L706.2,205.3 L707.8,175.0 L708.4,161.2 L709.3,151.7 L712.6,146.5 L716.2,150.7 L719.3,137.1 L722.9,148.6 L726.3,139.8 L729.8,142.3 L733.4,124.1 L736.5,120.3 L743.0,78.4 L746.6,88.9 L750.1,85.1 L756.6,108.3 L760.2,109.8 L763.8,122.0 L767.1,114.6 L770.3,114.0 L773.8,99.8 L780.5,103.1 L783.9,92.6 L787.0,97.7 L790.6,96.2 L794.1,97.2 L797.5,95.6 L800.6,97.7 L804.4,110.9 L807.4,97.2 L810.9,75.9 L814.3,75.4 L817.6,73.4 L821.0,67.9 L824.7,43.2 L828.2,42.7 L831.9,59.5 L834.9,61.5 L838.6,69.0 L842.3,64.5 L845.0,64.0 L849.0,67.9 L855.1,35.1 L858.8,29.2 L862.1,44.8 L865.5,45.7 L868.8,35.6 L872.5,43.5 L875.6,45.7 L882.6,36.8 L885.6,45.2 L889.8,61.1 L892.7,69.0 L896.0,65.0 L899.4,69.0 L902.8,58.6 L906.1,57.4 L910.0,64.5 L913.3,64.5 L916.7,63.2 L920.0,64.5 L923.1,43.5 L926.4,36.8 L930.1,34.8 L933.5,33.9 L936.8,34.8 L940.2,33.8 L943.3,37.3 L946.3,37.6 L950.2,41.0 L953.8,36.7 L957.1,45.2 L960.8,39.4 L964.2,35.5 L966.5,35.7 L970.9,33.3 L974.6,35.2 L980.9,37.1 L984.7,45.0 L987.6,44.7 L991.0,46.8 L997.9,54.4 L1005.2,46.8 L1005.2,161.5 L7.6,161.5 Z" fill="url(#gg)" clip-path="url(#up)"/>
<path d="M7.6,160.2 L9.8,155.2 L11.5,156.2 L16.0,158.8 L20.0,161.5 L25.0,166.0 L30.0,170.4 L36.1,173.8 L41.1,175.3 L46.2,173.8 L50.4,168.9 L53.7,171.9 L56.3,170.2 L58.8,171.7 L67.2,181.9 L71.4,178.5 L74.7,178.9 L81.4,181.9 L84.5,179.9 L88.1,186.1 L91.0,185.3 L97.4,195.3 L101.2,200.4 L104.9,194.5 L111.7,218.0 L115.0,210.8 L117.5,213.0 L121.7,209.1 L129.3,204.6 L132.1,205.1 L135.7,217.2 L138.5,220.9 L141.9,219.7 L145.2,214.1 L148.6,214.6 L155.9,235.3 L159.2,229.4 L162.6,236.1 L166.0,260.4 L169.3,261.8 L171.8,252.9 L176.0,248.7 L179.9,261.3 L182.7,246.2 L186.1,266.3 L189.5,250.4 L193.3,245.3 L196.7,253.7 L200.0,272.5 L203.4,273.9 L207.1,260.4 L210.4,252.0 L213.5,252.9 L217.2,250.4 L220.5,248.7 L226.4,241.1 L230.3,239.5 L234.0,254.1 L237.3,241.6 L240.7,240.3 L244.0,245.7 L247.4,234.9 L250.7,255.4 L254.1,264.6 L257.8,268.0 L260.8,263.5 L267.5,257.9 L271.2,259.6 L274.6,247.9 L277.9,256.2 L281.8,252.9 L284.7,252.4 L291.9,242.3 L294.7,240.8 L298.6,243.7 L307.8,220.1 L311.5,225.5 L322.1,216.5 L325.0,224.4 L328.4,226.9 L331.8,224.9 L336.0,217.7 L338.8,216.0 L346.0,231.1 L349.4,233.3 L351.9,230.3 L356.1,221.0 L359.5,216.0 L362.8,204.7 L366.5,208.1 L373.4,202.6 L376.8,216.0 L380.1,218.2 L383.1,211.0 L390.5,221.0 L393.9,220.2 L396.9,210.1 L400.9,211.8 L404.0,231.1 L407.0,243.4 L409.8,239.5 L413.7,232.8 L416.5,231.9 L420.7,242.9 L423.8,244.6 L427.2,238.2 L430.6,242.1 L434.4,273.6 L437.6,274.5 L441.0,252.8 L444.3,252.8 L447.8,248.4 L451.4,264.4 L454.4,261.7 L461.7,266.3 L464.5,264.1 L467.8,269.2 L475.1,285.5 L478.4,286.8 L482.1,273.7 L488.4,253.6 L492.0,246.8 L495.5,249.6 L498.9,247.7 L502.3,241.0 L505.6,241.8 L509.0,239.3 L512.3,247.7 L515.7,238.5 L519.1,237.3 L525.8,245.7 L532.8,235.9 L535.9,234.8 L540.0,231.8 L546.6,233.8 L549.9,229.0 L553.3,228.6 L559.8,214.9 L563.5,221.7 L566.5,220.7 L570.2,226.3 L573.6,222.9 L576.1,222.8 L580.3,225.7 L586.9,221.2 L590.4,224.3 L597.1,214.2 L600.4,212.0 L607.2,203.6 L611.9,205.6 L614.7,204.5 L618.1,201.6 L621.4,200.8 L624.5,203.6 L628.1,212.5 L634.4,218.7 L637.0,218.2 L641.2,213.7 L644.1,213.4 L647.5,211.2 L651.7,204.8 L658.4,207.0 L660.9,206.1 L665.1,204.0 L668.9,194.4 L671.8,189.8 L675.2,190.5 L678.9,218.4 L681.9,222.1 L685.7,228.0 L692.0,228.3 L695.3,219.6 L698.7,208.7 L702.4,221.8 L706.2,205.3 L707.8,175.0 L708.4,161.2 L709.3,151.7 L712.6,146.5 L716.2,150.7 L719.3,137.1 L722.9,148.6 L726.3,139.8 L729.8,142.3 L733.4,124.1 L736.5,120.3 L743.0,78.4 L746.6,88.9 L750.1,85.1 L756.6,108.3 L760.2,109.8 L763.8,122.0 L767.1,114.6 L770.3,114.0 L773.8,99.8 L780.5,103.1 L783.9,92.6 L787.0,97.7 L790.6,96.2 L794.1,97.2 L797.5,95.6 L800.6,97.7 L804.4,110.9 L807.4,97.2 L810.9,75.9 L814.3,75.4 L817.6,73.4 L821.0,67.9 L824.7,43.2 L828.2,42.7 L831.9,59.5 L834.9,61.5 L838.6,69.0 L842.3,64.5 L845.0,64.0 L849.0,67.9 L855.1,35.1 L858.8,29.2 L862.1,44.8 L865.5,45.7 L868.8,35.6 L872.5,43.5 L875.6,45.7 L882.6,36.8 L885.6,45.2 L889.8,61.1 L892.7,69.0 L896.0,65.0 L899.4,69.0 L902.8,58.6 L906.1,57.4 L910.0,64.5 L913.3,64.5 L916.7,63.2 L920.0,64.5 L923.1,43.5 L926.4,36.8 L930.1,34.8 L933.5,33.9 L936.8,34.8 L940.2,33.8 L943.3,37.3 L946.3,37.6 L950.2,41.0 L953.8,36.7 L957.1,45.2 L960.8,39.4 L964.2,35.5 L966.5,35.7 L970.9,33.3 L974.6,35.2 L980.9,37.1 L984.7,45.0 L987.6,44.7 L991.0,46.8 L997.9,54.4 L1005.2,46.8 L1005.2,161.5 L7.6,161.5 Z" fill="url(#rg)" clip-path="url(#dn)"/>
<line x1="63.8" x2="1005" y1="161.5" y2="161.5" stroke="#7f8a9e" stroke-width="1" stroke-dasharray="1 3"/>
<path d="M7.6,160.2 L9.8,155.2 L11.5,156.2 L16.0,158.8 L20.0,161.5 L25.0,166.0 L30.0,170.4 L36.1,173.8 L41.1,175.3 L46.2,173.8 L50.4,168.9 L53.7,171.9 L56.3,170.2 L58.8,171.7 L67.2,181.9 L71.4,178.5 L74.7,178.9 L81.4,181.9 L84.5,179.9 L88.1,186.1 L91.0,185.3 L97.4,195.3 L101.2,200.4 L104.9,194.5 L111.7,218.0 L115.0,210.8 L117.5,213.0 L121.7,209.1 L129.3,204.6 L132.1,205.1 L135.7,217.2 L138.5,220.9 L141.9,219.7 L145.2,214.1 L148.6,214.6 L155.9,235.3 L159.2,229.4 L162.6,236.1 L166.0,260.4 L169.3,261.8 L171.8,252.9 L176.0,248.7 L179.9,261.3 L182.7,246.2 L186.1,266.3 L189.5,250.4 L193.3,245.3 L196.7,253.7 L200.0,272.5 L203.4,273.9 L207.1,260.4 L210.4,252.0 L213.5,252.9 L217.2,250.4 L220.5,248.7 L226.4,241.1 L230.3,239.5 L234.0,254.1 L237.3,241.6 L240.7,240.3 L244.0,245.7 L247.4,234.9 L250.7,255.4 L254.1,264.6 L257.8,268.0 L260.8,263.5 L267.5,257.9 L271.2,259.6 L274.6,247.9 L277.9,256.2 L281.8,252.9 L284.7,252.4 L291.9,242.3 L294.7,240.8 L298.6,243.7 L307.8,220.1 L311.5,225.5 L322.1,216.5 L325.0,224.4 L328.4,226.9 L331.8,224.9 L336.0,217.7 L338.8,216.0 L346.0,231.1 L349.4,233.3 L351.9,230.3 L356.1,221.0 L359.5,216.0 L362.8,204.7 L366.5,208.1 L373.4,202.6 L376.8,216.0 L380.1,218.2 L383.1,211.0 L390.5,221.0 L393.9,220.2 L396.9,210.1 L400.9,211.8 L404.0,231.1 L407.0,243.4 L409.8,239.5 L413.7,232.8 L416.5,231.9 L420.7,242.9 L423.8,244.6 L427.2,238.2 L430.6,242.1 L434.4,273.6 L437.6,274.5 L441.0,252.8 L444.3,252.8 L447.8,248.4 L451.4,264.4 L454.4,261.7 L461.7,266.3 L464.5,264.1 L467.8,269.2 L475.1,285.5 L478.4,286.8 L482.1,273.7 L488.4,253.6 L492.0,246.8 L495.5,249.6 L498.9,247.7 L502.3,241.0 L505.6,241.8 L509.0,239.3 L512.3,247.7 L515.7,238.5 L519.1,237.3 L525.8,245.7 L532.8,235.9 L535.9,234.8 L540.0,231.8 L546.6,233.8 L549.9,229.0 L553.3,228.6 L559.8,214.9 L563.5,221.7 L566.5,220.7 L570.2,226.3 L573.6,222.9 L576.1,222.8 L580.3,225.7 L586.9,221.2 L590.4,224.3 L597.1,214.2 L600.4,212.0 L607.2,203.6 L611.9,205.6 L614.7,204.5 L618.1,201.6 L621.4,200.8 L624.5,203.6 L628.1,212.5 L634.4,218.7 L637.0,218.2 L641.2,213.7 L644.1,213.4 L647.5,211.2 L651.7,204.8 L658.4,207.0 L660.9,206.1 L665.1,204.0 L668.9,194.4 L671.8,189.8 L675.2,190.5 L678.9,218.4 L681.9,222.1 L685.7,228.0 L692.0,228.3 L695.3,219.6 L698.7,208.7 L702.4,221.8 L706.2,205.3 L707.8,175.0 L708.4,161.2 L709.3,151.7 L712.6,146.5 L716.2,150.7 L719.3,137.1 L722.9,148.6 L726.3,139.8 L729.8,142.3 L733.4,124.1 L736.5,120.3 L743.0,78.4 L746.6,88.9 L750.1,85.1 L756.6,108.3 L760.2,109.8 L763.8,122.0 L767.1,114.6 L770.3,114.0 L773.8,99.8 L780.5,103.1 L783.9,92.6 L787.0,97.7 L790.6,96.2 L794.1,97.2 L797.5,95.6 L800.6,97.7 L804.4,110.9 L807.4,97.2 L810.9,75.9 L814.3,75.4 L817.6,73.4 L821.0,67.9 L824.7,43.2 L828.2,42.7 L831.9,59.5 L834.9,61.5 L838.6,69.0 L842.3,64.5 L845.0,64.0 L849.0,67.9 L855.1,35.1 L858.8,29.2 L862.1,44.8 L865.5,45.7 L868.8,35.6 L872.5,43.5 L875.6,45.7 L882.6,36.8 L885.6,45.2 L889.8,61.1 L892.7,69.0 L896.0,65.0 L899.4,69.0 L902.8,58.6 L906.1,57.4 L910.0,64.5 L913.3,64.5 L916.7,63.2 L920.0,64.5 L923.1,43.5 L926.4,36.8 L930.1,34.8 L933.5,33.9 L936.8,34.8 L940.2,33.8 L943.3,37.3 L946.3,37.6 L950.2,41.0 L953.8,36.7 L957.1,45.2 L960.8,39.4 L964.2,35.5 L966.5,35.7 L970.9,33.3 L974.6,35.2 L980.9,37.1 L984.7,45.0 L987.6,44.7 L991.0,46.8 L997.9,54.4 L1005.2,46.8" fill="none" stroke="#18ba7f" stroke-width="1.85" stroke-linejoin="round" stroke-linecap="round" clip-path="url(#up)"/>
<path d="M7.6,160.2 L9.8,155.2 L11.5,156.2 L16.0,158.8 L20.0,161.5 L25.0,166.0 L30.0,170.4 L36.1,173.8 L41.1,175.3 L46.2,173.8 L50.4,168.9 L53.7,171.9 L56.3,170.2 L58.8,171.7 L67.2,181.9 L71.4,178.5 L74.7,178.9 L81.4,181.9 L84.5,179.9 L88.1,186.1 L91.0,185.3 L97.4,195.3 L101.2,200.4 L104.9,194.5 L111.7,218.0 L115.0,210.8 L117.5,213.0 L121.7,209.1 L129.3,204.6 L132.1,205.1 L135.7,217.2 L138.5,220.9 L141.9,219.7 L145.2,214.1 L148.6,214.6 L155.9,235.3 L159.2,229.4 L162.6,236.1 L166.0,260.4 L169.3,261.8 L171.8,252.9 L176.0,248.7 L179.9,261.3 L182.7,246.2 L186.1,266.3 L189.5,250.4 L193.3,245.3 L196.7,253.7 L200.0,272.5 L203.4,273.9 L207.1,260.4 L210.4,252.0 L213.5,252.9 L217.2,250.4 L220.5,248.7 L226.4,241.1 L230.3,239.5 L234.0,254.1 L237.3,241.6 L240.7,240.3 L244.0,245.7 L247.4,234.9 L250.7,255.4 L254.1,264.6 L257.8,268.0 L260.8,263.5 L267.5,257.9 L271.2,259.6 L274.6,247.9 L277.9,256.2 L281.8,252.9 L284.7,252.4 L291.9,242.3 L294.7,240.8 L298.6,243.7 L307.8,220.1 L311.5,225.5 L322.1,216.5 L325.0,224.4 L328.4,226.9 L331.8,224.9 L336.0,217.7 L338.8,216.0 L346.0,231.1 L349.4,233.3 L351.9,230.3 L356.1,221.0 L359.5,216.0 L362.8,204.7 L366.5,208.1 L373.4,202.6 L376.8,216.0 L380.1,218.2 L383.1,211.0 L390.5,221.0 L393.9,220.2 L396.9,210.1 L400.9,211.8 L404.0,231.1 L407.0,243.4 L409.8,239.5 L413.7,232.8 L416.5,231.9 L420.7,242.9 L423.8,244.6 L427.2,238.2 L430.6,242.1 L434.4,273.6 L437.6,274.5 L441.0,252.8 L444.3,252.8 L447.8,248.4 L451.4,264.4 L454.4,261.7 L461.7,266.3 L464.5,264.1 L467.8,269.2 L475.1,285.5 L478.4,286.8 L482.1,273.7 L488.4,253.6 L492.0,246.8 L495.5,249.6 L498.9,247.7 L502.3,241.0 L505.6,241.8 L509.0,239.3 L512.3,247.7 L515.7,238.5 L519.1,237.3 L525.8,245.7 L532.8,235.9 L535.9,234.8 L540.0,231.8 L546.6,233.8 L549.9,229.0 L553.3,228.6 L559.8,214.9 L563.5,221.7 L566.5,220.7 L570.2,226.3 L573.6,222.9 L576.1,222.8 L580.3,225.7 L586.9,221.2 L590.4,224.3 L597.1,214.2 L600.4,212.0 L607.2,203.6 L611.9,205.6 L614.7,204.5 L618.1,201.6 L621.4,200.8 L624.5,203.6 L628.1,212.5 L634.4,218.7 L637.0,218.2 L641.2,213.7 L644.1,213.4 L647.5,211.2 L651.7,204.8 L658.4,207.0 L660.9,206.1 L665.1,204.0 L668.9,194.4 L671.8,189.8 L675.2,190.5 L678.9,218.4 L681.9,222.1 L685.7,228.0 L692.0,228.3 L695.3,219.6 L698.7,208.7 L702.4,221.8 L706.2,205.3 L707.8,175.0 L708.4,161.2 L709.3,151.7 L712.6,146.5 L716.2,150.7 L719.3,137.1 L722.9,148.6 L726.3,139.8 L729.8,142.3 L733.4,124.1 L736.5,120.3 L743.0,78.4 L746.6,88.9 L750.1,85.1 L756.6,108.3 L760.2,109.8 L763.8,122.0 L767.1,114.6 L770.3,114.0 L773.8,99.8 L780.5,103.1 L783.9,92.6 L787.0,97.7 L790.6,96.2 L794.1,97.2 L797.5,95.6 L800.6,97.7 L804.4,110.9 L807.4,97.2 L810.9,75.9 L814.3,75.4 L817.6,73.4 L821.0,67.9 L824.7,43.2 L828.2,42.7 L831.9,59.5 L834.9,61.5 L838.6,69.0 L842.3,64.5 L845.0,64.0 L849.0,67.9 L855.1,35.1 L858.8,29.2 L862.1,44.8 L865.5,45.7 L868.8,35.6 L872.5,43.5 L875.6,45.7 L882.6,36.8 L885.6,45.2 L889.8,61.1 L892.7,69.0 L896.0,65.0 L899.4,69.0 L902.8,58.6 L906.1,57.4 L910.0,64.5 L913.3,64.5 L916.7,63.2 L920.0,64.5 L923.1,43.5 L926.4,36.8 L930.1,34.8 L933.5,33.9 L936.8,34.8 L940.2,33.8 L943.3,37.3 L946.3,37.6 L950.2,41.0 L953.8,36.7 L957.1,45.2 L960.8,39.4 L964.2,35.5 L966.5,35.7 L970.9,33.3 L974.6,35.2 L980.9,37.1 L984.7,45.0 L987.6,44.7 L991.0,46.8 L997.9,54.4 L1005.2,46.8" fill="none" stroke="#e4374a" stroke-width="1.85" stroke-linejoin="round" stroke-linecap="round" clip-path="url(#dn)"/>
<rect x="10.2" y="152.4" width="51.2" height="21.4" rx="5" fill="#fff" opacity="0.94" filter="url(#bl)"/>
<text x="14" y="166.9" font-family="'Liberation Sans',sans-serif" font-size="11" fill="#58667e" textLength="41.8" lengthAdjust="spacingAndGlyphs">108.22K</text>
<text x="1013.3" y="98.7" font-family="'Liberation Sans',sans-serif" font-size="11.3" fill="#6f778a" textLength="42.4" lengthAdjust="spacingAndGlyphs">109.00K</text>
<text x="1013.3" y="141.0" font-family="'Liberation Sans',sans-serif" font-size="11.3" fill="#6f778a" textLength="42.4" lengthAdjust="spacingAndGlyphs">108.50K</text>
<text x="1013.3" y="183.3" font-family="'Liberation Sans',sans-serif" font-size="11.3" fill="#6f778a" textLength="42.4" lengthAdjust="spacingAndGlyphs">108.00K</text>
<text x="1013.3" y="225.4" font-family="'Liberation Sans',sans-serif" font-size="11.3" fill="#6f778a" textLength="41.0" lengthAdjust="spacingAndGlyphs">107.50K</text>
<text x="1013.3" y="267.8" font-family="'Liberation Sans',sans-serif" font-size="11.3" fill="#6f778a" textLength="40.8" lengthAdjust="spacingAndGlyphs">107.00K</text>
<text x="1013.3" y="310.2" font-family="'Liberation Sans',sans-serif" font-size="11.3" fill="#6f778a" textLength="42.2" lengthAdjust="spacingAndGlyphs">106.50K</text>
<rect x="1007.5" y="34" width="55" height="25" rx="3.5" fill="#16c784"/>
<text x="1014.2" y="51" font-family="'Liberation Sans',sans-serif" font-size="11.4" fill="#fff" stroke="#fff" stroke-width="0.35" textLength="41" lengthAdjust="spacingAndGlyphs">109.56K</text>
<text x="1019.5" y="359.2" font-family="'Liberation Sans',sans-serif" font-size="12" font-weight="700" fill="#737a8c" textLength="24.8" lengthAdjust="spacingAndGlyphs">USD</text>
<text x="50.5" y="378.3" text-anchor="middle" font-family="'Liberation Sans',sans-serif" font-size="11.7" fill="#6f778a">6:00 AM</text>
<text x="132" y="378.3" text-anchor="middle" font-family="'Liberation Sans',sans-serif" font-size="11.7" fill="#6f778a">8:00 AM</text>
<text x="213.5" y="378.3" text-anchor="middle" font-family="'Liberation Sans',sans-serif" font-size="11.7" fill="#6f778a">10:00 AM</text>
<text x="295" y="378.3" text-anchor="middle" font-family="'Liberation Sans',sans-serif" font-size="11.7" fill="#6f778a">12:00 PM</text>
<text x="377" y="378.3" text-anchor="middle" font-family="'Liberation Sans',sans-serif" font-size="11.7" fill="#6f778a">2:00 PM</text>
<text x="458.5" y="378.3" text-anchor="middle" font-family="'Liberation Sans',sans-serif" font-size="11.7" fill="#6f778a">4:00 PM</text>
<text x="540" y="378.3" text-anchor="middle" font-family="'Liberation Sans',sans-serif" font-size="11.7" fill="#6f778a">6:00 PM</text>
<text x="621.5" y="378.3" text-anchor="middle" font-family="'Liberation Sans',sans-serif" font-size="11.7" fill="#6f778a">8:00 PM</text>
<text x="703" y="378.3" text-anchor="middle" font-family="'Liberation Sans',sans-serif" font-size="11.7" fill="#6f778a">10:00 PM</text>
<text x="784" y="378.3" text-anchor="middle" font-family="'Liberation Sans',sans-serif" font-size="11.7" fill="#6f778a">26 May</text>
<text x="865.5" y="378.3" text-anchor="middle" font-family="'Liberation Sans',sans-serif" font-size="11.7" fill="#6f778a">2:00 AM</text>
<text x="947" y="378.3" text-anchor="middle" font-family="'Liberation Sans',sans-serif" font-size="11.7" fill="#6f778a">4:00 AM</text>
<line x1="7.5" x2="1007.2" y1="413.5" y2="413.5" stroke="#f1f2f4"/>
<line x1="7.5" x2="1007.2" y1="453.5" y2="453.5" stroke="#f1f2f4"/>
<line x1="39.1" x2="39.1" y1="413.5" y2="453.5" stroke="#f1f2f4"/>
<line x1="106.3" x2="106.3" y1="413.5" y2="453.5" stroke="#f1f2f4"/>
<line x1="173.6" x2="173.6" y1="413.5" y2="453.5" stroke="#f1f2f4"/>
<line x1="240.8" x2="240.8" y1="413.5" y2="453.5" stroke="#f1f2f4"/>
<line x1="308.1" x2="308.1" y1="413.5" y2="453.5" stroke="#f1f2f4"/>
<line x1="375.4" x2="375.4" y1="413.5" y2="453.5" stroke="#f1f2f4"/>
<line x1="442.6" x2="442.6" y1="413.5" y2="453.5" stroke="#f1f2f4"/>
<line x1="509.9" x2="509.9" y1="413.5" y2="453.5" stroke="#f1f2f4"/>
<line x1="577.1" x2="577.1" y1="413.5" y2="453.5" stroke="#f1f2f4"/>
<line x1="644.4" x2="644.4" y1="413.5" y2="453.5" stroke="#f1f2f4"/>
<line x1="711.6" x2="711.6" y1="413.5" y2="453.5" stroke="#f1f2f4"/>
<line x1="778.9" x2="778.9" y1="413.5" y2="453.5" stroke="#f1f2f4"/>
<line x1="846.1" x2="846.1" y1="413.5" y2="453.5" stroke="#f1f2f4"/>
<line x1="913.4" x2="913.4" y1="413.5" y2="453.5" stroke="#f1f2f4"/>
<line x1="980.6" x2="980.6" y1="413.5" y2="453.5" stroke="#f1f2f4"/>
<path d="M7.5,452.8 L480.0,452.6 L498.4,451.4 L508.2,448.4 L515.2,450.8 L560.0,451.4 L640.0,451.4 L699.9,448.6 L701.8,447.8 L703.6,447.2 L705.5,446.9 L707.4,445.6 L709.2,444.9 L711.1,444.2 L712.9,443.1 L714.7,441.1 L716.4,440.5 L718.2,439.6 L720.0,438.0 L722.0,437.8 L723.9,434.8 L725.9,434.4 L727.8,432.6 L729.8,433.0 L731.9,435.4 L734.0,435.8 L735.8,438.1 L737.5,438.2 L739.2,442.1 L741.0,442.8 L742.8,443.5 L744.5,442.8 L746.2,442.6 L748.0,442.2 L749.8,440.6 L751.5,439.3 L753.2,439.6 L755.0,438.6 L756.8,436.7 L758.5,436.3 L760.2,435.7 L762.0,435.8 L763.9,433.1 L765.7,433.4 L767.6,432.4 L769.5,432.9 L771.3,434.9 L773.2,434.4 L775.1,435.9 L776.9,437.6 L778.8,438.6 L780.5,438.9 L782.3,439.7 L784.0,439.5 L785.8,440.0 L787.9,439.1 L790.0,440.5 L792.1,440.2 L794.2,438.6 L796.0,440.5 L797.7,441.2 L799.5,441.4 L801.2,442.8 L803.1,442.9 L804.9,443.7 L806.8,444.0 L808.7,445.6 L810.5,445.7 L812.4,446.4 L814.6,446.9 L816.8,446.5 L818.9,447.3 L821.1,447.3 L823.3,446.5 L825.5,446.8 L827.6,447.7 L829.8,447.3 L832.0,447.5 L833.9,448.1 L835.7,447.7 L837.6,447.6 L839.5,448.2 L841.3,448.5 L843.2,448.4 L845.1,447.9 L846.9,447.3 L848.8,447.2 L850.6,447.6 L852.4,447.0 L854.3,446.4 L856.2,445.6 L858.0,445.3 L859.9,444.7 L861.8,444.3 L863.6,445.0 L865.5,444.2 L867.4,443.7 L869.2,444.3 L871.1,444.1 L873.0,443.7 L874.8,444.6 L876.7,444.2 L878.6,443.8 L880.4,444.7 L882.3,444.0 L884.2,444.6 L886.0,444.4 L887.9,445.0 L889.8,444.3 L891.6,445.0 L893.5,444.4 L895.4,443.2 L897.2,443.8 L899.1,442.8 L901.1,441.7 L903.1,441.5 L905.1,442.0 L907.1,441.0 L909.1,439.2 L911.1,440.8 L913.1,439.1 L915.0,438.0 L916.8,437.7 L918.7,438.0 L920.5,437.0 L922.2,433.8 L924.0,431.8 L925.7,430.7 L927.5,429.4 L929.2,430.0 L931.0,432.3 L932.7,432.4 L934.8,431.2 L936.9,432.4 L939.0,431.3 L941.1,431.6 L943.2,431.8 L945.3,434.0 L947.4,432.6 L949.5,433.0 L951.6,433.3 L953.7,434.3 L955.8,431.9 L957.9,433.0 L960.0,431.1 L962.1,433.4 L964.2,432.5 L966.3,430.7 L968.2,427.6 L970.0,425.2 L971.9,424.6 L973.8,423.8 L975.6,423.0 L977.5,418.4 L979.4,417.2 L981.2,422.4 L983.1,420.4 L985.2,422.0 L987.3,419.0 L989.2,421.0 L991.0,421.4 L992.9,423.2 L994.6,421.6 L996.4,421.8 L998.1,427.1 L999.9,425.2 L1001.8,421.7 L1003.6,422.1 L1005.5,418.8 L1007.2,418.8 L1007.2,453.4 L7.5,453.4 Z" fill="#eff2f5"/>
<text x="39.1" y="470.3" text-anchor="middle" font-family="'Liberation Sans',sans-serif" font-size="11.7" fill="#6f778a">2011</text>
<text x="106.3" y="470.3" text-anchor="middle" font-family="'Liberation Sans',sans-serif" font-size="11.7" fill="#6f778a">2012</text>
<text x="173.6" y="470.3" text-anchor="middle" font-family="'Liberation Sans',sans-serif" font-size="11.7" fill="#6f778a">2013</text>
<text x="240.8" y="470.3" text-anchor="middle" font-family="'Liberation Sans',sans-serif" font-size="11.7" fill="#6f778a">2014</text>
<text x="308.1" y="470.3" text-anchor="middle" font-family="'Liberation Sans',sans-serif" font-size="11.7" fill="#6f778a">2015</text>
<text x="375.4" y="470.3" text-anchor="middle" font-family="'Liberation Sans',sans-serif" font-size="11.7" fill="#6f778a">2016</text>
<text x="442.6" y="470.3" text-anchor="middle" font-family="'Liberation Sans',sans-serif" font-size="11.7" fill="#6f778a">2017</text>
<text x="509.9" y="470.3" text-anchor="middle" font-family="'Liberation Sans',sans-serif" font-size="11.7" fill="#6f778a">2018</text>
<text x="577.1" y="470.3" text-anchor="middle" font-family="'Liberation Sans',sans-serif" font-size="11.7" fill="#6f778a">2019</text>
<text x="644.4" y="470.3" text-anchor="middle" font-family="'Liberation Sans',sans-serif" font-size="11.7" fill="#6f778a">2020</text>
<text x="711.6" y="470.3" text-anchor="middle" font-family="'Liberation Sans',sans-serif" font-size="11.7" fill="#6f778a">2021</text>
<text x="778.9" y="470.3" text-anchor="middle" font-family="'Liberation Sans',sans-serif" font-size="11.7" fill="#6f778a">2022</text>
<text x="846.1" y="470.3" text-anchor="middle" font-family="'Liberation Sans',sans-serif" font-size="11.7" fill="#6f778a">2023</text>
<text x="913.4" y="470.3" text-anchor="middle" font-family="'Liberation Sans',sans-serif" font-size="11.7" fill="#6f778a">2024</text>
<text x="980.6" y="470.3" text-anchor="middle" font-family="'Liberation Sans',sans-serif" font-size="11.7" fill="#6f778a">2025</text>
<g filter="url(#sh)"><rect x="998.6" y="422.2" width="14.2" height="20.6" rx="6.4" fill="#fff"/></g>
<path d="M1004.3,429.2 V437.4 M1007.4,429.2 V437.4" stroke="#969fb0" stroke-width="1.05" fill="none"/>
<path d="M10.3,396.2 L17.4,387.6 Q20.4,384.0 25,384.0 H48.5 A12.4,12.4 0 0 1 48.5,408.8 H25 Q20.4,408.8 17.4,405.0 Z" fill="#a6b0c3"/>
<g fill="none" stroke="#fff" stroke-width="1.45" stroke-linecap="round" stroke-linejoin="round"><path d="M21.3,393.9 A5,5 0 1 1 21.7,398.3"/><path d="M20.4,391.6 L21.1,394.3 L23.8,393.7"/><path d="M26.0,392.8 V395.6 L27.9,397.2"/></g>
<text x="36.8" y="400.0" font-family="'Liberation Sans',sans-serif" font-size="11" fill="#fff" stroke="#fff" stroke-width="0.22" textLength="18.3" lengthAdjust="spacingAndGlyphs">106</text>
<path d="M933,384.3 L936.2,380.2 L939.4,384.3 Z" fill="#8a40f8"/>
<rect x="866.7" y="384" width="138.6" height="24.7" rx="12.35" fill="#8a40f8"/>
<path d="M880.3,390.0 L874.8,396.9 H878.2 L876.5,402.2 L883.0,394.8 H879.6 Z" fill="none" stroke="#fff" stroke-width="1.45" stroke-linejoin="round"/>
<text x="889.4" y="400.3" font-family="'Liberation Sans',sans-serif" font-size="11.6" fill="#fff" stroke="#fff" stroke-width="0.3" textLength="108" lengthAdjust="spacingAndGlyphs">Bitcoin's growth is ...</text>
</svg>
</body></html>
